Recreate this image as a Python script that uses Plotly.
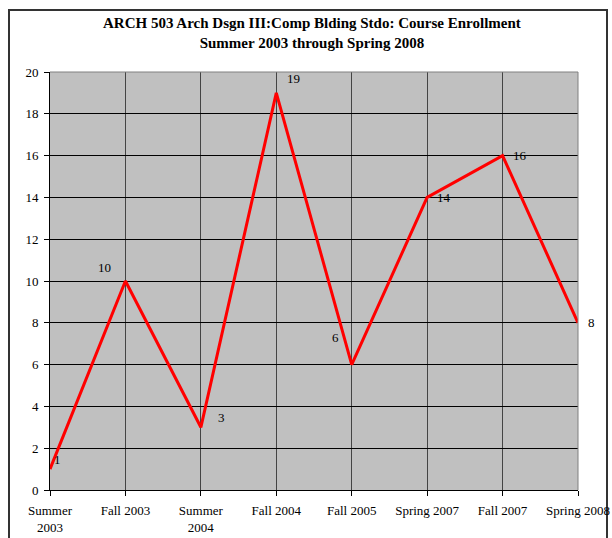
import plotly.graph_objects as go

terms = ["Summer<br>2003", "Fall 2003", "Summer<br>2004", "Fall 2004",
         "Fall 2005", "Spring 2007", "Fall 2007", "Spring 2008"]
enrollment = [1, 10, 3, 19, 6, 14, 16, 8]
y_ticks = list(range(0, 21, 2))

# label offsets (px) to mimic placement in the reference
label_dx = [7, -21, 21, 17, -16, 17, 17, 13]
label_dy = [10, 14, 10, 14, 27, 0, 0, 0]

FONT = "Liberation Serif, Times New Roman, serif"
PH = 418.0  # plot height px
PW = 528.0  # plot width px

fig = go.Figure()
fig.add_trace(go.Scatter(
    x=terms, y=enrollment, mode="lines",
    line=dict(color="#FF0000", width=3), hoverinfo="skip"))

for t, v, dx, dy in zip(terms, enrollment, label_dx, label_dy):
    fig.add_annotation(x=t, y=v, text=str(v), showarrow=False,
                       xshift=dx, yshift=dy,
                       font=dict(family=FONT, size=13, color="#000"))

fig.add_annotation(xref="paper", yref="paper", x=(312 - 50) / PW,
                   y=(490 - 13) / PH, xanchor="center", yanchor="top",
                   showarrow=False, align="center",
                   text="<b>ARCH 503 Arch Dsgn III:Comp Blding Stdo: Course Enrollment<br>Summer 2003 through Spring 2008</b>",
                   font=dict(family=FONT, size=15, color="#000"))

fig.add_shape(type="rect", xref="paper", yref="paper",
              x0=(9 - 50) / PW, x1=(607 - 50) / PW,
              y0=(490 - 550) / PH, y1=(490 - 10) / PH,
              line=dict(color="#333", width=2), layer="below")

fig.update_layout(
    width=612, height=538,
    margin=dict(l=50, r=34, t=72, b=48, autoexpand=False),
    paper_bgcolor="white", plot_bgcolor="#C0C0C0",
    showlegend=False,
    font=dict(family=FONT, size=13, color="#000"),
    xaxis=dict(type="category", range=[0, 7], showgrid=True,
               gridcolor="#444", gridwidth=1, automargin=False,
               showline=True, linecolor="#000", linewidth=1,
               mirror=False, ticks="outside", ticklen=5, tickcolor="#000",
               ticklabelstandoff=3,
               tickfont=dict(family=FONT, size=13, color="#000"),
               zeroline=False, fixedrange=True),
    yaxis=dict(range=[0, 20], tickvals=y_ticks, showgrid=True,
               gridcolor="#000", gridwidth=1, automargin=False,
               showline=True, linecolor="#000", linewidth=1,
               ticks="outside", ticklen=5, tickcolor="#000",
               ticklabelstandoff=3,
               tickfont=dict(family=FONT, size=13, color="#000"),
               zeroline=False, fixedrange=True),
)

# gray border on top and right of the plot area
fig.add_shape(type="line", xref="paper", yref="paper", x0=0, x1=1, y0=1, y1=1,
              line=dict(color="#808080", width=1))
fig.add_shape(type="line", xref="paper", yref="paper", x0=1, x1=1, y0=0, y1=1,
              line=dict(color="#808080", width=1))

fig.write_html("out.html")
